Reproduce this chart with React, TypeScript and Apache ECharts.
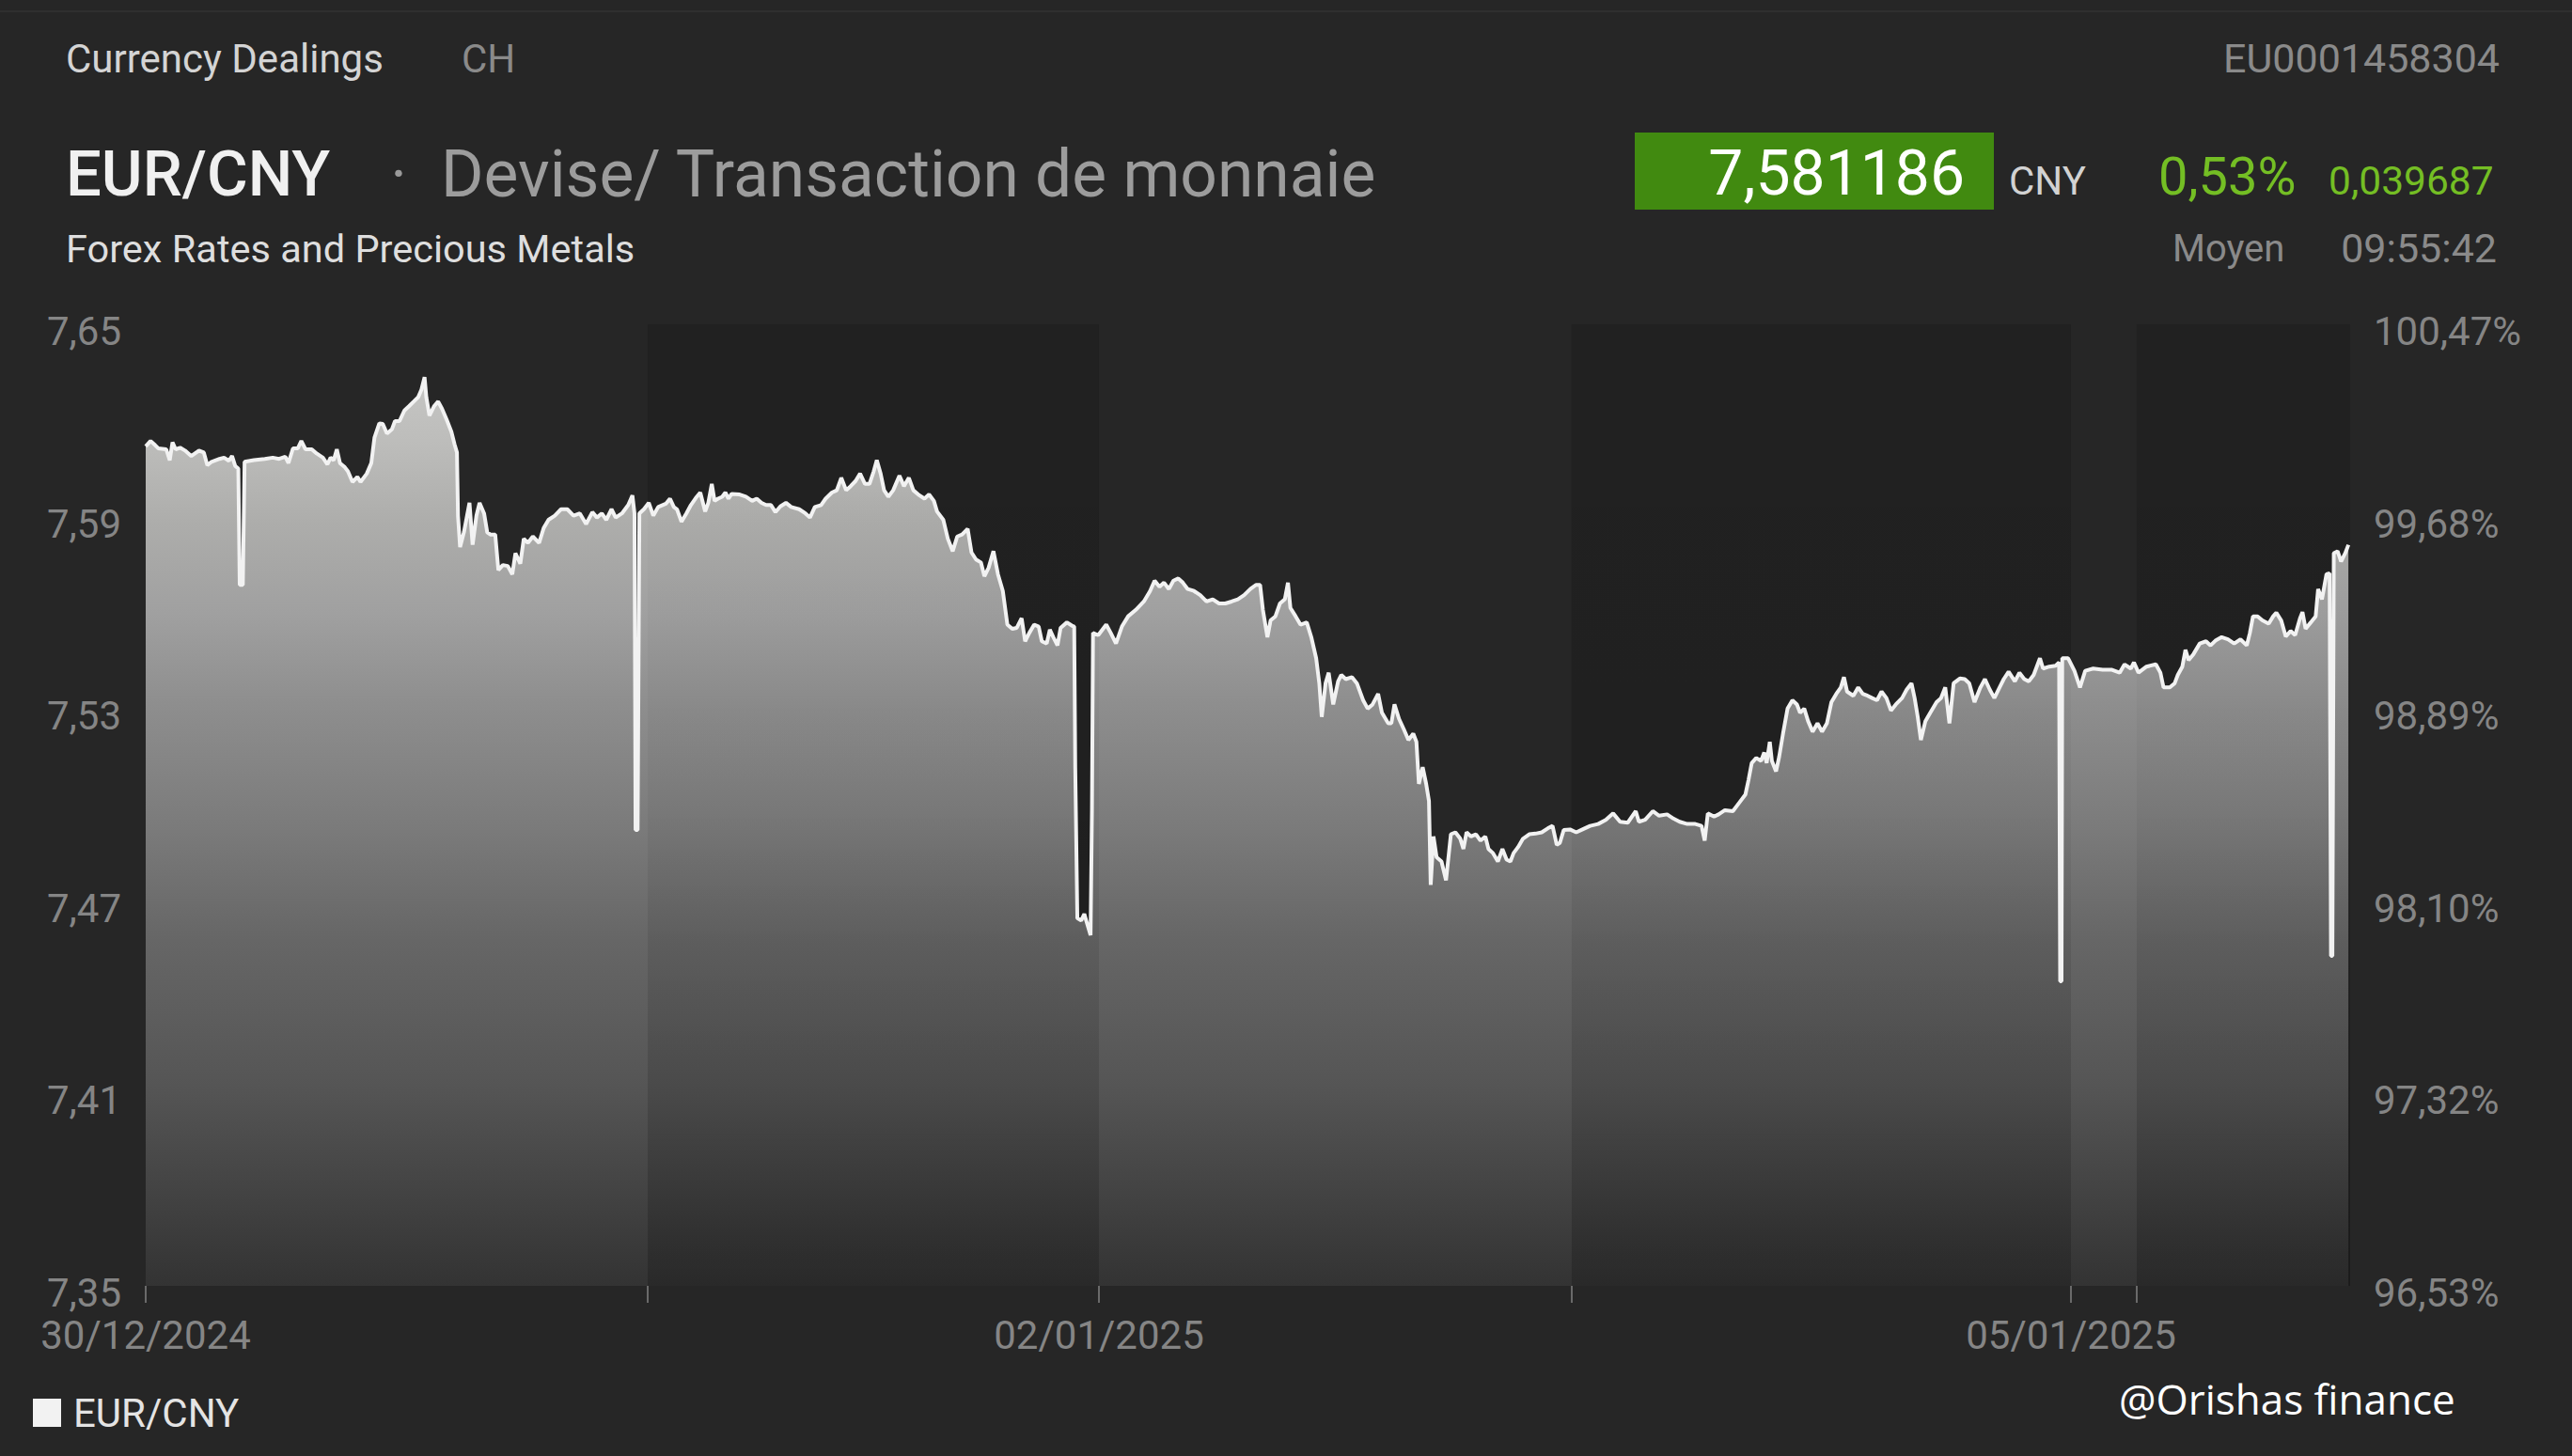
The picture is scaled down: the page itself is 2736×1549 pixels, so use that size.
import React, { useEffect, useRef } from "react";
import * as echarts from "echarts";

const W = 2736;
const H = 1549;

// Time axis: minutes on the chart's compressed trading clock, from the 30/12/2024 open
const dayStarts = [0, 1442, 2738, 4096, 5530, 5719];
const dayNames = ["30/12/2024", "31/12/2024", "02/01/2025", "03/01/2025", "05/01/2025", "06/01/2025"];
const labelledDays = ["30/12/2024", "02/01/2025", "05/01/2025"];
const sessionEnd = 6332;

const leftTicks = [7.35, 7.41, 7.47, 7.53, 7.59, 7.65];
const leftTickLabels = ["7,35", "7,41", "7,47", "7,53", "7,59", "7,65"];
const rightTickLabels = ["96,53%", "97,32%", "98,10%", "98,89%", "99,68%", "100,47%"];

// EUR/CNY quotes [minute, rate]
const day3012 = [
  [0, 7.6119], [14, 7.6136], [27, 7.6123], [36, 7.6113], [59, 7.611], [69, 7.6076], [77, 7.6132], [86, 7.611],
  [99, 7.6115], [113, 7.6106], [131, 7.6089], [153, 7.6106], [167, 7.61], [177, 7.606], [189, 7.6071], [212, 7.608],
  [225, 7.6084], [239, 7.6074], [248, 7.6089], [257, 7.6058], [266, 7.605], [270, 7.5687], [279, 7.5687], [284, 7.6071],
  [311, 7.6076], [342, 7.608], [365, 7.6084], [383, 7.608], [401, 7.6087], [410, 7.6067], [423, 7.6113], [437, 7.6113],
  [447, 7.6136], [459, 7.611], [477, 7.611], [491, 7.6097], [509, 7.6084], [522, 7.6063], [531, 7.6084], [540, 7.6076],
  [549, 7.611], [558, 7.6067], [572, 7.6054], [581, 7.6041], [594, 7.6008], [608, 7.6024], [617, 7.6008], [635, 7.6034],
  [648, 7.6067], [657, 7.6146], [671, 7.6191], [681, 7.6189], [693, 7.6159], [707, 7.6172], [716, 7.6198], [729, 7.6198],
  [743, 7.6231], [756, 7.6244], [770, 7.6259], [783, 7.6273], [792, 7.6296], [801, 7.6335], [806, 7.6273], [815, 7.6215],
  [828, 7.6244], [840, 7.6259], [851, 7.6237], [864, 7.6204], [878, 7.6165], [887, 7.6126], [894, 7.61], [897, 7.5903],
  [903, 7.5805], [914, 7.5851], [930, 7.5943], [939, 7.5812], [950, 7.5903], [959, 7.5943], [972, 7.591], [981, 7.5851],
  [990, 7.5844], [1004, 7.5844], [1013, 7.5733], [1026, 7.5749], [1040, 7.5746], [1053, 7.572], [1062, 7.5786], [1076, 7.5753],
  [1086, 7.5831], [1098, 7.5818], [1112, 7.5838], [1130, 7.5818], [1143, 7.5864], [1157, 7.589], [1175, 7.5903], [1193, 7.5923],
  [1211, 7.5923], [1229, 7.5903], [1247, 7.591], [1265, 7.5877], [1283, 7.5914], [1296, 7.5897], [1310, 7.591], [1323, 7.589],
  [1338, 7.5923], [1350, 7.5897], [1368, 7.591], [1386, 7.5936], [1398, 7.5966], [1404, 7.591], [1407, 7.4922], [1413, 7.4922],
  [1418, 7.591], [1431, 7.5923],
];
const day3112 = [
  [1445, 7.5943], [1458, 7.5903], [1472, 7.593], [1494, 7.594], [1506, 7.5956], [1517, 7.593], [1526, 7.5923], [1539, 7.5884],
  [1553, 7.591], [1566, 7.5936], [1580, 7.5958], [1593, 7.5975], [1607, 7.5916], [1616, 7.5943], [1626, 7.6002], [1634, 7.5949],
  [1644, 7.5956], [1656, 7.5962], [1665, 7.5975], [1674, 7.5956], [1683, 7.5971], [1706, 7.5969], [1724, 7.5962], [1742, 7.5949],
  [1755, 7.5956], [1769, 7.5943], [1782, 7.5936], [1796, 7.5936], [1809, 7.5914], [1823, 7.5932], [1839, 7.5943], [1854, 7.593],
  [1877, 7.5923], [1895, 7.591], [1908, 7.5897], [1922, 7.593], [1940, 7.5936], [1953, 7.5956], [1971, 7.5975], [1985, 7.5982],
  [1998, 7.6021], [2012, 7.5982], [2025, 7.5995], [2039, 7.6011], [2052, 7.6034], [2066, 7.6002], [2079, 7.6002], [2091, 7.6041],
  [2100, 7.6076], [2111, 7.6034], [2121, 7.5982], [2133, 7.5962], [2147, 7.5982], [2165, 7.6028], [2178, 7.5995], [2192, 7.6021],
  [2205, 7.5982], [2219, 7.5969], [2237, 7.5956], [2250, 7.5969], [2264, 7.5949], [2273, 7.5916], [2291, 7.589], [2304, 7.5831],
  [2318, 7.5792], [2331, 7.5838], [2345, 7.5844], [2361, 7.5862], [2372, 7.5788], [2385, 7.5766], [2399, 7.5757], [2409, 7.5714],
  [2421, 7.574], [2435, 7.5792], [2448, 7.572], [2462, 7.5668], [2475, 7.5563], [2489, 7.555], [2502, 7.5553], [2516, 7.5583],
  [2526, 7.5511], [2538, 7.5537], [2552, 7.5563], [2565, 7.5557], [2574, 7.5511], [2588, 7.5504], [2597, 7.5547], [2607, 7.5524],
  [2619, 7.5498], [2628, 7.5553], [2646, 7.557], [2660, 7.556], [2667, 7.5557], [2670, 7.5118], [2676, 7.4647], [2687, 7.464],
  [2696, 7.466], [2705, 7.4627], [2714, 7.4594], [2718, 7.4987], [2721, 7.5537], [2736, 7.553],
];
const day0201 = [
  [2759, 7.5563], [2772, 7.5537], [2787, 7.5504], [2804, 7.5557], [2822, 7.5589], [2844, 7.5609], [2867, 7.5635], [2885, 7.5668],
  [2898, 7.57], [2912, 7.5681], [2925, 7.5694], [2939, 7.5674], [2952, 7.57], [2966, 7.5707], [2979, 7.5694], [2993, 7.5674],
  [3011, 7.5668], [3029, 7.5655], [3047, 7.5635], [3065, 7.5642], [3083, 7.5629], [3101, 7.5629], [3119, 7.5635], [3137, 7.5642],
  [3155, 7.5655], [3173, 7.5674], [3189, 7.5687], [3201, 7.5687], [3209, 7.5609], [3222, 7.5524], [3231, 7.5576], [3245, 7.5589],
  [3258, 7.5629], [3272, 7.5642], [3281, 7.5694], [3288, 7.5615], [3303, 7.5589], [3317, 7.5563], [3335, 7.557], [3348, 7.5524],
  [3362, 7.5458], [3371, 7.538], [3378, 7.5275], [3389, 7.538], [3398, 7.5413], [3411, 7.5314], [3425, 7.5386], [3434, 7.5406],
  [3447, 7.5393], [3465, 7.5399], [3479, 7.538], [3497, 7.5327], [3510, 7.5301], [3524, 7.5314], [3540, 7.5347], [3551, 7.5288],
  [3569, 7.5255], [3578, 7.5255], [3587, 7.5314], [3600, 7.5269], [3614, 7.5236], [3627, 7.5203], [3641, 7.5223], [3650, 7.5197],
  [3657, 7.5066], [3668, 7.5118], [3678, 7.5066], [3686, 7.5013], [3691, 7.4751], [3699, 7.4902], [3708, 7.4837], [3722, 7.4824],
  [3735, 7.4765], [3749, 7.4909], [3762, 7.4915], [3776, 7.4895], [3785, 7.4863], [3794, 7.4915], [3807, 7.4902], [3821, 7.4909],
  [3834, 7.4889], [3848, 7.4902], [3857, 7.4863], [3870, 7.485], [3884, 7.4824], [3897, 7.4863], [3909, 7.483], [3920, 7.4824],
  [3929, 7.485], [3942, 7.4869], [3956, 7.4895], [3974, 7.4909], [3992, 7.4911], [4010, 7.4915], [4028, 7.4928], [4041, 7.4935],
  [4053, 7.4876], [4062, 7.4882], [4073, 7.4922], [4091, 7.4924],
];
const day0301 = [
  [4109, 7.4915], [4127, 7.4924], [4149, 7.4935], [4172, 7.4941], [4194, 7.4954], [4215, 7.4974], [4235, 7.4948], [4257, 7.4945],
  [4280, 7.4981], [4289, 7.4948], [4307, 7.4954], [4329, 7.4981], [4347, 7.4967], [4370, 7.4971], [4388, 7.4958], [4406, 7.4948],
  [4428, 7.4941], [4451, 7.4941], [4469, 7.4935], [4478, 7.4889], [4487, 7.4974], [4505, 7.4964], [4518, 7.4971], [4536, 7.4984],
  [4559, 7.4981], [4577, 7.5007], [4595, 7.5033], [4604, 7.5079], [4613, 7.5131], [4626, 7.5147], [4640, 7.5138], [4649, 7.5164],
  [4656, 7.5131], [4665, 7.5197], [4671, 7.5138], [4683, 7.5105], [4692, 7.5151], [4703, 7.5223], [4716, 7.5301], [4730, 7.5327],
  [4743, 7.5314], [4752, 7.5288], [4764, 7.5301], [4775, 7.5262], [4788, 7.5229], [4802, 7.5255], [4815, 7.5229], [4829, 7.5255],
  [4842, 7.5321], [4856, 7.5347], [4869, 7.5367], [4878, 7.5399], [4887, 7.5354], [4905, 7.5341], [4919, 7.5367], [4932, 7.5347],
  [4946, 7.5341], [4959, 7.5334], [4973, 7.5327], [4986, 7.5354], [5000, 7.5334], [5013, 7.5295], [5027, 7.5314], [5045, 7.5334],
  [5058, 7.536], [5072, 7.538], [5081, 7.5334], [5090, 7.5275], [5099, 7.5203], [5112, 7.5262], [5126, 7.5288], [5144, 7.5321],
  [5157, 7.5334], [5169, 7.5367], [5181, 7.5255], [5193, 7.538], [5211, 7.5395], [5225, 7.5393], [5238, 7.538], [5253, 7.5321],
  [5270, 7.5367], [5283, 7.5393], [5297, 7.536], [5310, 7.5334], [5325, 7.5367], [5337, 7.5393], [5351, 7.5416], [5369, 7.5386],
  [5382, 7.5413], [5396, 7.5393], [5409, 7.5386], [5423, 7.5406], [5441, 7.5458], [5450, 7.5426], [5468, 7.5432], [5486, 7.5435],
  [5496, 7.5445], [5499, 7.445], [5503, 7.445], [5505, 7.5458], [5522, 7.5458],
];
const day0501 = [
  [5540, 7.5419], [5556, 7.5367], [5571, 7.5419], [5594, 7.5426], [5621, 7.5422], [5648, 7.5422], [5670, 7.5413], [5684, 7.5439],
  [5702, 7.5426], [5711, 7.5445],
];
const day0601 = [
  [5724, 7.5413], [5747, 7.5432], [5774, 7.5439], [5787, 7.5413], [5796, 7.5367], [5814, 7.5367], [5828, 7.538], [5837, 7.5406],
  [5850, 7.5432], [5859, 7.5484], [5868, 7.5452], [5882, 7.5471], [5900, 7.5504], [5918, 7.5511], [5931, 7.5498], [5945, 7.5513],
  [5963, 7.5524], [5981, 7.5517], [5999, 7.5504], [6017, 7.5517], [6035, 7.5498], [6044, 7.5537], [6053, 7.5589], [6066, 7.5589],
  [6080, 7.5576], [6098, 7.5566], [6111, 7.5589], [6120, 7.56], [6134, 7.5576], [6147, 7.5526], [6161, 7.5543], [6174, 7.553],
  [6188, 7.5583], [6195, 7.5602], [6204, 7.555], [6219, 7.557], [6233, 7.5589], [6240, 7.5674], [6251, 7.5642], [6264, 7.572],
  [6273, 7.5723], [6277, 7.4529], [6281, 7.4529], [6285, 7.5786], [6296, 7.5792], [6306, 7.576], [6318, 7.5786], [6327, 7.5812],
];

// Header texts
const instrument = "EUR/CNY";
const lastPrice = "7,581186";
const changePct = "0,53%";
const changeAbs = "0,039687";

const FONT = "Roboto";

function txt(text: string, x: number, y: number, size: number, fill: string, align = "left", weight = 400, family = FONT) {
  return {
    type: "text",
    x,
    y,
    silent: true,
    style: {
      text,
      fill,
      fontSize: size,
      fontFamily: family,
      fontWeight: weight,
      align,
      textAlign: align,
      verticalAlign: "middle",
      textVerticalAlign: "middle",
    },
  };
}

export default function App() {
  const ref = useRef<HTMLDivElement>(null);

  useEffect(() => {
    if (!ref.current) return;
    const chart = echarts.init(ref.current, null, { renderer: "svg", width: W, height: H });

    const data = [...day3012, ...day3112, ...day0201, ...day0301, ...day0501, ...day0601];
    const dayEnds = dayStarts.map((s, i) => (i < dayStarts.length - 1 ? dayStarts[i + 1] : sessionEnd));
    const darkBands = dayStarts
      .map((s, i) => [{ xAxis: s }, { xAxis: dayEnds[i] }])
      .filter((_, i) => i % 2 === 1);
    const labelTimes = dayStarts.filter((_, i) => labelledDays.includes(dayNames[i]));

    const idxOf = (v: number) => leftTicks.findIndex((t) => Math.abs(t - v) < 1e-6);

    const axisLabelBase = {
      color: "#858585",
      fontSize: 42,
      fontFamily: FONT,
    };

    const option: any = {
      animation: false,
      backgroundColor: "#262626",
      grid: { left: 155, right: 236, top: 345, bottom: 181, containLabel: false },
      xAxis: {
        type: "value",
        min: 0,
        max: sessionEnd,
        axisLine: { show: false },
        splitLine: { show: false },
        axisTick: {
          show: true,
          customValues: dayStarts,
          length: 18,
          lineStyle: { color: "#6a6a6a", width: 2 },
        },
        axisLabel: {
          ...axisLabelBase,
          customValues: labelTimes,
          margin: 37,
          verticalAlign: "top",
          lineHeight: 30,
          formatter: (v: number) => {
            const i = dayStarts.findIndex((d) => Math.abs(d - v) < 1e-6);
            return i >= 0 ? dayNames[i] : "";
          },
        },
      },
      yAxis: [
        {
          type: "value",
          position: "left",
          min: 7.35,
          max: 7.65,
          axisLine: { show: false },
          axisTick: { show: false },
          splitLine: { show: false },
          axisLabel: {
            ...axisLabelBase,
            customValues: leftTicks,
            margin: 26,
            verticalAlign: "top",
            lineHeight: 15,
            formatter: (v: number) => leftTickLabels[idxOf(v)] ?? "",
          },
        },
        {
          type: "value",
          position: "right",
          min: 7.35,
          max: 7.65,
          axisLine: { show: false },
          axisTick: { show: false },
          splitLine: { show: false },
          axisLabel: {
            ...axisLabelBase,
            customValues: leftTicks,
            margin: 25,
            verticalAlign: "top",
            lineHeight: 15,
            formatter: (v: number) => rightTickLabels[idxOf(v)] ?? "",
          },
        },
      ],
      legend: {
        data: [instrument],
        left: 30,
        top: 1477,
        icon: "rect",
        itemWidth: 30,
        itemHeight: 30,
        itemStyle: { color: "#f2f2f2" },
        textStyle: { color: "#e4e4e4", fontSize: 42, fontFamily: FONT, lineHeight: 42, padding: [0, 0, 0, 8] },
      },
      series: [
        {
          name: "fill",
          type: "line",
          data,
          symbol: "none",
          silent: true,
          z: 2,
          lineStyle: { width: 0 },
          areaStyle: {
            opacity: 1,
            color: new echarts.graphic.LinearGradient(0, 0, 0, 1, [
              { offset: 0, color: "#c6c6c4" },
              { offset: 0.07, color: "#bdbdbb" },
              { offset: 0.16, color: "#adadab" },
              { offset: 0.26, color: "#a0a0a0" },
              { offset: 0.36, color: "#8e8e8e" },
              { offset: 0.5, color: "#7a7a7a" },
              { offset: 0.62, color: "#666666" },
              { offset: 0.78, color: "#555555" },
              { offset: 0.91, color: "#414141" },
              { offset: 1, color: "#333333" },
            ]),
          },
          markArea: {
            silent: true,
            z: 1,
            itemStyle: { color: "#212121" },
            data: darkBands,
          },
        },
        {
          name: "shade",
          type: "line",
          data,
          symbol: "none",
          silent: true,
          z: 3,
          lineStyle: { width: 0, opacity: 0 },
          markArea: {
            silent: true,
            z: 3,
            itemStyle: {
              color: new echarts.graphic.LinearGradient(0, 0, 0, 1, [
                { offset: 0, color: "rgba(0,0,0,0)" },
                { offset: 0.5, color: "rgba(0,0,0,0.04)" },
                { offset: 1, color: "rgba(0,0,0,0.2)" },
              ]),
            },
            data: darkBands,
          },
        },
        {
          name: instrument,
          type: "line",
          data,
          symbol: "none",
          z: 4,
          lineStyle: { color: "#f2f2f2", width: 4 },
          itemStyle: { color: "#f2f2f2" },
        },
      ],
      graphic: [
        { type: "line", silent: true, shape: { x1: 0, y1: 12, x2: W, y2: 12 }, style: { stroke: "#2f2f2f", lineWidth: 2 } },
        txt("Currency Dealings", 70, 62, 42, "#d4d4d4"),
        txt("CH", 491, 62, 42, "#8a8a8a"),
        txt("EU0001458304", 2659, 62, 43, "#8a8a8a", "right"),
        txt(instrument, 70, 185, 67, "#f0f0f0", "left", 500),
        txt("·", 424, 185, 66, "#9a9a9a", "center"),
        txt("Devise/ Transaction de monnaie", 469, 185, 69.5, "#9c9c9c"),
        txt("Forex Rates and Precious Metals", 70, 264, 41.5, "#dedede"),
        { type: "rect", silent: true, shape: { x: 1739, y: 141, width: 382, height: 82 }, style: { fill: "#418a10" } },
        txt(lastPrice, 2090, 184, 66, "#ffffff", "right"),
        txt("CNY", 2137, 192, 42, "#d2d2d2"),
        txt(changePct, 2296, 188, 56, "#74be24"),
        txt(changeAbs, 2477, 192, 42.5, "#74be24"),
        txt("Moyen", 2311, 264, 40, "#8a8a8a"),
        txt("09:55:42", 2656, 264, 43, "#8a8a8a", "right"),
        txt("@Orishas finance", 2254, 1488, 44, "#ffffff", "left", 400, "Open Sans"),
      ],
    };

    chart.setOption(option);
    return () => chart.dispose();
  }, []);

  return <div ref={ref} style={{ position: "absolute", left: 0, top: 0, width: W, height: H }} />;
}
